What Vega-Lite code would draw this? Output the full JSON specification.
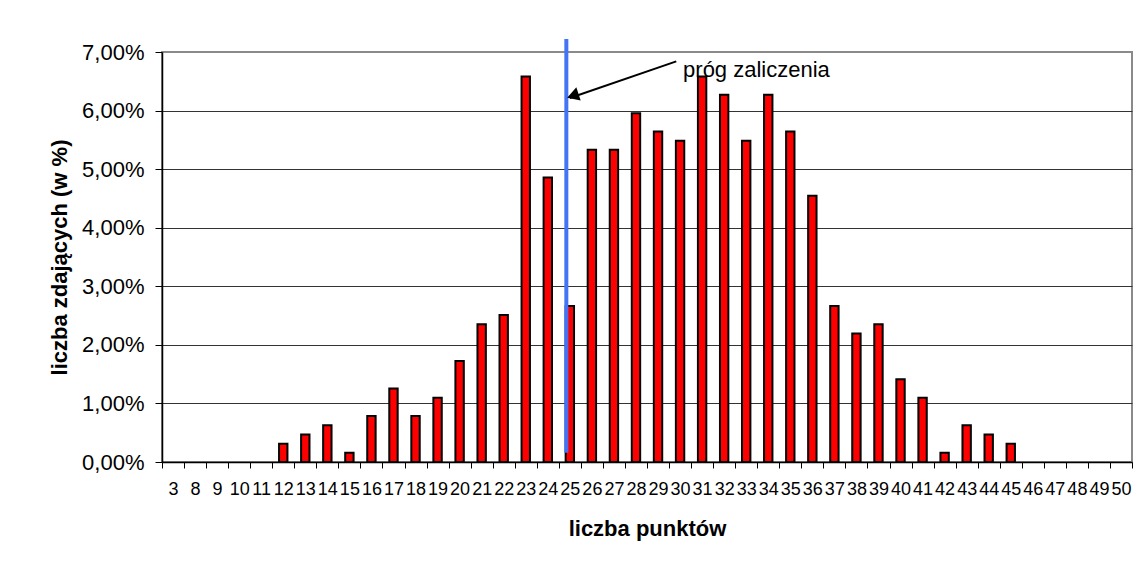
{
  "$schema": "https://vega.github.io/schema/vega-lite/v6.json",
  "width": 970,
  "height": 410,
  "autosize": {"type": "none"},
  "padding": {"left": 162, "top": 52, "right": 12, "bottom": 101},
  "background": "white",
  "config": {
    "view": {"stroke": "#8a8a8a", "strokeWidth": 2},
    "font": "Liberation Sans"
  },
  "layer": [
    {
      "data": {
        "values": [
          {"punkty": "3", "procent": 0},
          {"punkty": "8", "procent": 0},
          {"punkty": "9", "procent": 0},
          {"punkty": "10", "procent": 0},
          {"punkty": "11", "procent": 0},
          {"punkty": "12", "procent": 0.003135},
          {"punkty": "13", "procent": 0.004702},
          {"punkty": "14", "procent": 0.00627},
          {"punkty": "15", "procent": 0.001567},
          {"punkty": "16", "procent": 0.007837},
          {"punkty": "17", "procent": 0.012539},
          {"punkty": "18", "procent": 0.007837},
          {"punkty": "19", "procent": 0.010972},
          {"punkty": "20", "procent": 0.017241},
          {"punkty": "21", "procent": 0.023511},
          {"punkty": "22", "procent": 0.025078},
          {"punkty": "23", "procent": 0.065831},
          {"punkty": "24", "procent": 0.048589},
          {"punkty": "25", "procent": 0.026646},
          {"punkty": "26", "procent": 0.053292},
          {"punkty": "27", "procent": 0.053292},
          {"punkty": "28", "procent": 0.059561},
          {"punkty": "29", "procent": 0.056426},
          {"punkty": "30", "procent": 0.054859},
          {"punkty": "31", "procent": 0.065831},
          {"punkty": "32", "procent": 0.062696},
          {"punkty": "33", "procent": 0.054859},
          {"punkty": "34", "procent": 0.062696},
          {"punkty": "35", "procent": 0.056426},
          {"punkty": "36", "procent": 0.045455},
          {"punkty": "37", "procent": 0.026646},
          {"punkty": "38", "procent": 0.021944},
          {"punkty": "39", "procent": 0.023511},
          {"punkty": "40", "procent": 0.014107},
          {"punkty": "41", "procent": 0.010972},
          {"punkty": "42", "procent": 0.001567},
          {"punkty": "43", "procent": 0.00627},
          {"punkty": "44", "procent": 0.004702},
          {"punkty": "45", "procent": 0.003135},
          {"punkty": "46", "procent": 0},
          {"punkty": "47", "procent": 0},
          {"punkty": "48", "procent": 0},
          {"punkty": "49", "procent": 0},
          {"punkty": "50", "procent": 0}
        ]
      },
      "transform": [{"filter": "datum.procent > 0"}],
      "mark": {"type": "bar", "fill": "#ff0000", "stroke": "#000000", "strokeWidth": 2, "width": {"band": 0.38}},
      "encoding": {
        "x": {
          "field": "punkty",
          "type": "nominal",
          "sort": null,
          "scale": {
            "type": "band",
            "domain": ["3","8","9","10","11","12","13","14","15","16","17","18","19","20","21","22","23","24","25","26","27","28","29","30","31","32","33","34","35","36","37","38","39","40","41","42","43","44","45","46","47","48","49","50"],
            "paddingInner": 0,
            "paddingOuter": 0
          },
          "axis": {
            "title": "liczba punktów",
            "titleFontSize": 22,
            "titleFontWeight": "bold",
            "titleColor": "#000000",
            "titlePadding": 20,
            "labelFontSize": 18,
            "labelColor": "#000000",
            "labelAngle": 0,
            "labelOverlap": false,
            "labelPadding": 12,
            "tickBand": "extent",
            "tickColor": "#000000",
            "tickSize": 6,
            "domainColor": "#000000",
            "domainWidth": 1.5,
            "grid": false
          }
        },
        "y": {
          "field": "procent",
          "type": "quantitative",
          "scale": {"domain": [0, 0.07], "nice": false},
          "axis": {
            "title": "liczba zdających (w %)",
            "titleFontSize": 22,
            "titleFontWeight": "bold",
            "titleColor": "#000000",
            "titlePadding": 10,
            "values": [0, 0.01, 0.02, 0.03, 0.04, 0.05, 0.06, 0.07],
            "labelExpr": "replace(format(datum.value, '.2%'), '.', ',')",
            "labelFontSize": 22,
            "labelColor": "#000000",
            "labelPadding": 11,
            "tickColor": "#000000",
            "tickSize": 7,
            "domainColor": "#000000",
            "domainWidth": 1.5,
            "grid": true,
            "gridColor": {"condition": {"test": "datum.value >= 0.07 || datum.value <= 0", "value": "transparent"}, "value": "#333333"},
            "gridWidth": 1
          }
        }
      }
    },
    {
      "data": {"values": [{"punkty": "25", "od": 0.0016, "do": 0.0722}]},
      "mark": {"type": "rule", "color": "#4573f5", "strokeWidth": 4, "xOffset": -3.5},
      "encoding": {
        "x": {"field": "punkty", "type": "nominal"},
        "y": {"field": "od", "type": "quantitative"},
        "y2": {"field": "do"}
      }
    },
    {
      "data": {"values": [{"punkty": "25", "punkty2": "30", "od": 0.06215, "do": 0.0684}]},
      "mark": {"type": "rule", "color": "#000000", "strokeWidth": 2, "xOffset": 0, "x2Offset": -3.8},
      "encoding": {
        "x": {"field": "punkty", "type": "nominal"},
        "x2": {"field": "punkty2"},
        "y": {"field": "od", "type": "quantitative"},
        "y2": {"field": "do"}
      }
    },
    {
      "data": {"values": [{"punkty": "25", "od": 0.06215}]},
      "mark": {"type": "point", "shape": "triangle-left", "filled": true, "color": "#000000", "opacity": 1, "size": 190, "angle": 341.6, "xOffset": 3, "yOffset": -2.2},
      "encoding": {
        "x": {"field": "punkty", "type": "nominal"},
        "y": {"field": "od", "type": "quantitative"}
      }
    },
    {
      "data": {"values": [{"punkty": "30", "od": 0.0658, "tekst": "próg zaliczenia"}]},
      "mark": {"type": "text", "align": "left", "baseline": "alphabetic", "fontSize": 22, "color": "#000000", "xOffset": 3},
      "encoding": {
        "x": {"field": "punkty", "type": "nominal"},
        "y": {"field": "od", "type": "quantitative"},
        "text": {"field": "tekst"}
      }
    }
  ]
}
